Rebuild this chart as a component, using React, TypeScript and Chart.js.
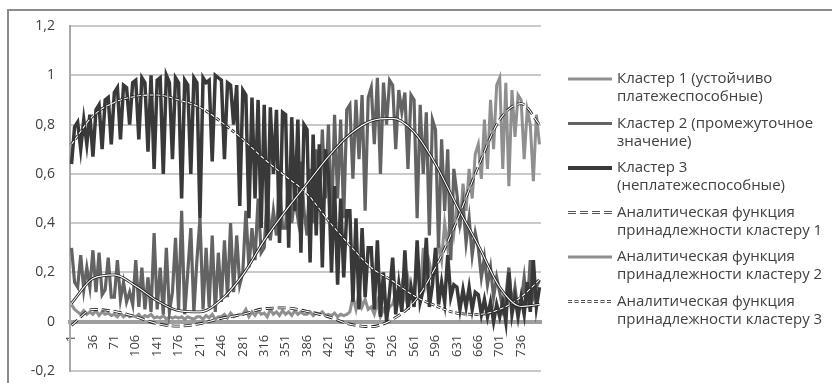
import React, { useEffect, useRef } from 'react';
import { Chart, registerables } from 'chart.js';

Chart.register(...registerables);

// Categories: observation numbers sampled every 5 observations (1 … 766)
const CATEGORIES: string[] = Array.from({ length: 154 }, (_, i) => String(1 + 5 * i));
const X_TICK_LABELS = ['1', '36', '71', '106', '141', '176', '211', '246', '281', '316', '351', '386', '421', '456', '491', '526', '561', '596', '631', '666', '701', '736'];
const Y_TICKS = [-0.2, 0, 0.2, 0.4, 0.6, 0.8, 1, 1.2];

// Кластер 1 (устойчиво платежеспособные)
const CLUSTER_1 = [
  0.07, 0.05, 0.04, 0.03, 0.045, 0.03, 0.04,
  0.03, 0.045, 0.025, 0.04, 0.03, 0.035, 0.025,
  0.03, 0.02, 0.035, 0.02, 0.03, 0.02, 0.025,
  0.02, 0.03, 0.015, 0.025, 0.02, 0.03, 0.015,
  0.02, 0.015, 0.025, 0.01, 0.02, 0.015, 0.02,
  0.015, 0.02, 0.01, 0.02, 0.015, 0.01, 0.02,
  0.02, 0.01, 0.025, 0.015, 0.03, 0.01, 0.02,
  0.02, 0.03, 0.015, 0.035, 0.02, 0.025, 0.03,
  0.03, 0.05, 0.02, 0.04, 0.025, 0.045, 0.03,
  0.035, 0.02, 0.05, 0.03, 0.04, 0.025, 0.045,
  0.03, 0.04, 0.025, 0.045, 0.03, 0.04, 0.03,
  0.03, 0.04, 0.025, 0.035, 0.03, 0.04, 0.025,
  0.03, 0.025, 0.035, 0.02, 0.03, 0.025, 0.03,
  0.04, 0.10, 0.05, 0.12, 0.06, 0.09, 0.05,
  0.06, 0.03, 0.08, 0.02, 0.05, 0.03, 0.06,
  0.07, 0.12, 0.08, 0.15, 0.10, 0.18, 0.12,
  0.14, 0.22, 0.12, 0.30, 0.16, 0.24, 0.18,
  0.22, 0.32, 0.25, 0.40, 0.30, 0.46, 0.36,
  0.48, 0.38, 0.56, 0.45, 0.62, 0.50, 0.68,
  0.72, 0.58, 0.82, 0.62, 0.90, 0.70, 0.96,
  0.99, 0.62, 0.97, 0.55, 0.94, 0.75, 0.92,
  0.90, 0.66, 0.86, 0.80, 0.57, 0.84, 0.72,
];

// Кластер 2 (промежуточное значение)
const CLUSTER_2 = [
  0.30, 0.16, 0.14, 0.27, 0.13, 0.22, 0.14,
  0.29, 0.12, 0.28, 0.11, 0.13, 0.26, 0.10,
  0.10, 0.25, 0.09, 0.16, 0.08, 0.12, 0.07,
  0.25, 0.06, 0.22, 0.05, 0.18, 0.04, 0.36,
  0.05, 0.22, 0.03, 0.30, 0.04, 0.12, 0.34,
  0.05, 0.45, 0.03, 0.20, 0.38, 0.04, 0.25,
  0.42, 0.05, 0.30, 0.06, 0.35, 0.04, 0.28,
  0.08, 0.33, 0.10, 0.40, 0.12, 0.35, 0.15,
  0.20, 0.45, 0.22, 0.38, 0.25, 0.50, 0.28,
  0.30, 0.52, 0.33, 0.45, 0.35, 0.58, 0.38,
  0.38, 0.60, 0.40, 0.50, 0.42, 0.65, 0.45,
  0.35, 0.62, 0.40, 0.70, 0.45, 0.78, 0.50,
  0.80, 0.38, 0.84, 0.50, 0.82, 0.42, 0.86,
  0.88, 0.58, 0.90, 0.66, 0.92, 0.45, 0.91,
  0.95, 0.72, 0.99, 0.60, 0.97, 0.80, 0.98,
  0.96, 0.70, 0.94, 0.85, 0.93, 0.62, 0.92,
  0.90, 0.42, 0.88, 0.60, 0.85, 0.35, 0.82,
  0.78, 0.30, 0.74, 0.45, 0.70, 0.25, 0.62,
  0.52, 0.40, 0.48, 0.32, 0.42, 0.27, 0.36,
  0.30, 0.18, 0.26, 0.15, 0.22, 0.10, 0.18,
  0.12, 0.05, 0.10, 0.22, 0.06, 0.14, 0.04,
  0.08, 0.18, 0.06, 0.25, 0.10, 0.14, 0.17,
];

// Кластер 3 (неплатежеспособные)
const CLUSTER_3 = [
  0.64, 0.79, 0.81, 0.70, 0.82, 0.72, 0.84,
  0.67, 0.86, 0.88, 0.70, 0.90, 0.91, 0.72,
  0.93, 0.95, 0.74, 0.96, 0.95, 0.80, 0.97,
  0.98, 0.74, 0.99, 0.97, 0.69, 1.00, 0.62,
  0.98, 0.99, 0.60, 1.00, 0.97, 0.66, 0.99,
  0.97, 0.50, 0.98, 0.96, 0.60, 0.99, 0.97,
  0.42, 0.99, 0.97, 0.98, 0.65, 1.00, 0.99,
  0.98, 0.66, 0.97, 0.96, 0.80, 0.96, 0.47,
  0.94, 0.92, 0.42, 0.91, 0.50, 0.90, 0.38,
  0.88, 0.34, 0.87, 0.60, 0.86, 0.32, 0.85,
  0.84, 0.30, 0.83, 0.45, 0.82, 0.28, 0.80,
  0.78, 0.24, 0.76, 0.35, 0.72, 0.22, 0.70,
  0.60, 0.20, 0.55, 0.15, 0.50, 0.18, 0.45,
  0.45, 0.08, 0.42, 0.05, 0.38, 0.10, 0.30,
  0.30, 0.05, 0.33, 0.02, 0.20, 0.00, 0.12,
  0.26, 0.03, 0.15, 0.04, 0.29, 0.05, 0.14,
  0.06, 0.33, 0.08, 0.13, 0.34, 0.06, 0.15,
  0.30, 0.07, 0.16, 0.08, 0.27, 0.10, 0.15,
  0.14, 0.05, 0.13, 0.06, 0.14, 0.05, 0.12,
  0.11, 0.03, 0.09, 0.02, 0.08, 0.00, 0.07,
  0.02, 0.08, 0.00, 0.20, 0.03, 0.10, 0.02,
  0.10, 0.03, 0.16, 0.04, 0.25, 0.06, 0.14,
];

// Analytic membership functions, read at every 35th observation
const AF_CATEGORIES = ['1', '36', '71', '106', '141', '176', '211', '246', '281', '316', '351', '386', '421', '456', '491', '526', '561', '596', '631', '666', '701', '736', '766'];
const AF_1 = [-0.015, 0.05, 0.042, 0.02, -0.008, -0.018, -0.008, 0.014, 0.03, 0.053, 0.056, 0.042, 0.02, -0.01, -0.02, 0.01, 0.08, 0.22, 0.41, 0.63, 0.82, 0.885, 0.8];
const AF_2 = [0.075, 0.175, 0.19, 0.145, 0.085, 0.045, 0.04, 0.09, 0.19, 0.33, 0.45, 0.56, 0.67, 0.76, 0.815, 0.825, 0.77, 0.64, 0.47, 0.31, 0.14, 0.062, 0.07];
const AF_3 = [0.72, 0.835, 0.89, 0.915, 0.92, 0.9, 0.87, 0.81, 0.74, 0.66, 0.59, 0.52, 0.41, 0.31, 0.22, 0.165, 0.105, 0.065, 0.035, 0.03, 0.05, 0.1, 0.17];

const LEGEND_LABELS: string[][] = [
  ['Кластер 1 (устойчиво', 'платежеспособные)'],
  ['Кластер 2 (промежуточное', 'значение)'],
  ['Кластер 3', '(неплатежеспособные)'],
  ['Аналитическая функция', 'принадлежности кластеру 1'],
  ['Аналитическая функция', 'принадлежности кластеру 2'],
  ['Аналитическая функция', 'принадлежности кластеру 3'],
];

const C1_COLOR = '#8f8f8f';
const C2_COLOR = '#636363';
const C3_COLOR = '#393939';
const AF_OUTER = '#1c1c1c';
const AF_INNER = '#ffffff';
const AF_DASHES: number[][] = [[8, 4], [], [4, 2.5]];
const FONT = '"Open Sans", "Noto Sans", sans-serif';
const TEXT_COLOR = '#404040';
const CLEAR = 'rgba(0,0,0,0)';

const afPoints = (vals: number[]) => vals.map((y, i) => ({ x: AF_CATEGORIES[i], y }));

const legendPlugin = {
  id: 'sideLegend',
  afterDraw(chart: any) {
    const ctx: CanvasRenderingContext2D = chart.ctx;
    const x0 = 559;
    const x1 = 603;
    const tx = 608;
    ctx.save();
    LEGEND_LABELS.forEach((lines, i) => {
      const y = 68 + i * 44.5;
      ctx.setLineDash([]);
      if (i < 3) {
        ctx.strokeStyle = [C1_COLOR, C2_COLOR, C3_COLOR][i];
        ctx.lineWidth = i === 2 ? 4 : 3;
        ctx.beginPath();
        ctx.moveTo(x0, y);
        ctx.lineTo(x1, y);
        ctx.stroke();
      } else {
        const dash = AF_DASHES[i - 3];
        ctx.setLineDash(dash);
        ctx.strokeStyle = AF_OUTER;
        ctx.lineWidth = 2.6;
        ctx.beginPath();
        ctx.moveTo(x0, y);
        ctx.lineTo(x1, y);
        ctx.stroke();
        ctx.strokeStyle = AF_INNER;
        ctx.lineWidth = 1;
        ctx.beginPath();
        ctx.moveTo(x0, y);
        ctx.lineTo(x1, y);
        ctx.stroke();
      }
      ctx.setLineDash([]);
      ctx.fillStyle = TEXT_COLOR;
      ctx.font = `15px ${FONT}`;
      ctx.textAlign = 'left';
      ctx.textBaseline = 'middle';
      lines.forEach((t, j) => ctx.fillText(t, tx, y + j * 17.8));
    });
    ctx.restore();
  },
};

function afDatasets(vals: number[], dash: number[]) {
  const common = {
    data: afPoints(vals),
    pointRadius: 0,
    borderDash: dash,
    cubicInterpolationMode: 'monotone' as const,
    fill: false,
  };
  return [
    { ...common, borderColor: AF_INNER, borderWidth: 1.1 },
    { ...common, borderColor: AF_OUTER, borderWidth: 2.8 },
  ];
}

export default function App() {
  const canvasRef = useRef<HTMLCanvasElement | null>(null);

  useEffect(() => {
    if (!canvasRef.current) return;
    const chart = new Chart(canvasRef.current, {
      type: 'line',
      data: {
        labels: CATEGORIES,
        datasets: [
          ...afDatasets(AF_1, AF_DASHES[0]),
          ...afDatasets(AF_2, AF_DASHES[1]),
          ...afDatasets(AF_3, AF_DASHES[2]),
          { data: CLUSTER_3, borderColor: C3_COLOR, borderWidth: 3.5, pointRadius: 0, tension: 0 },
          { data: CLUSTER_2, borderColor: C2_COLOR, borderWidth: 3.2, pointRadius: 0, tension: 0 },
          { data: CLUSTER_1, borderColor: C1_COLOR, borderWidth: 3, pointRadius: 0, tension: 0 },
        ] as any,
      },
      options: {
        responsive: false,
        animation: false,
        events: [],
        layout: { padding: { top: 15, bottom: 12, left: 0, right: 291 } },
        plugins: { legend: { display: false }, tooltip: { enabled: false } },
        scales: {
          x: {
            type: 'category',
            position: { y: 0 } as any,
            offset: true,
            grid: { display: true, color: CLEAR, drawOnChartArea: false, drawTicks: true, tickLength: 13, tickColor: CLEAR },
            border: { display: true, color: '#9e9e9e', width: 4 },
            afterBuildTicks: (scale: any) => {
              scale.ticks = X_TICK_LABELS.map((l) => ({ value: CATEGORIES.indexOf(l) }));
            },
            ticks: {
              autoSkip: false,
              maxRotation: 90,
              minRotation: 90,
              padding: 0,
              color: TEXT_COLOR,
              font: { family: FONT, size: 13 },
            },
          },
          y: {
            type: 'linear',
            min: -0.2,
            max: 1.2,
            afterFit: (scale: any) => {
              scale.width = 61;
            },
            afterBuildTicks: (scale: any) => {
              scale.ticks = Y_TICKS.map((v) => ({ value: v }));
            },
            grid: { color: '#c9c9c9', lineWidth: 2, drawTicks: true, tickLength: 15, tickColor: CLEAR },
            border: { display: true, color: '#a8a8a8', width: 2 },
            ticks: {
              padding: 0,
              color: TEXT_COLOR,
              font: { family: FONT, size: 14 },
              callback: (v: any) => String(Number(Number(v).toFixed(1))).replace('.', ','),
            },
          },
        },
      },
      plugins: [legendPlugin],
    });
    return () => chart.destroy();
  }, []);

  return (
    <div
      style={{
        position: 'absolute',
        left: 7,
        top: 9,
        borderTop: '2px solid #8c8c8c',
        borderLeft: '2px solid #8c8c8c',
        background: '#ffffff',
        width: 823,
        height: 372,
        overflow: 'hidden',
      }}
    >
      <canvas ref={canvasRef} width={823} height={372} style={{ display: 'block' }} />
    </div>
  );
}
